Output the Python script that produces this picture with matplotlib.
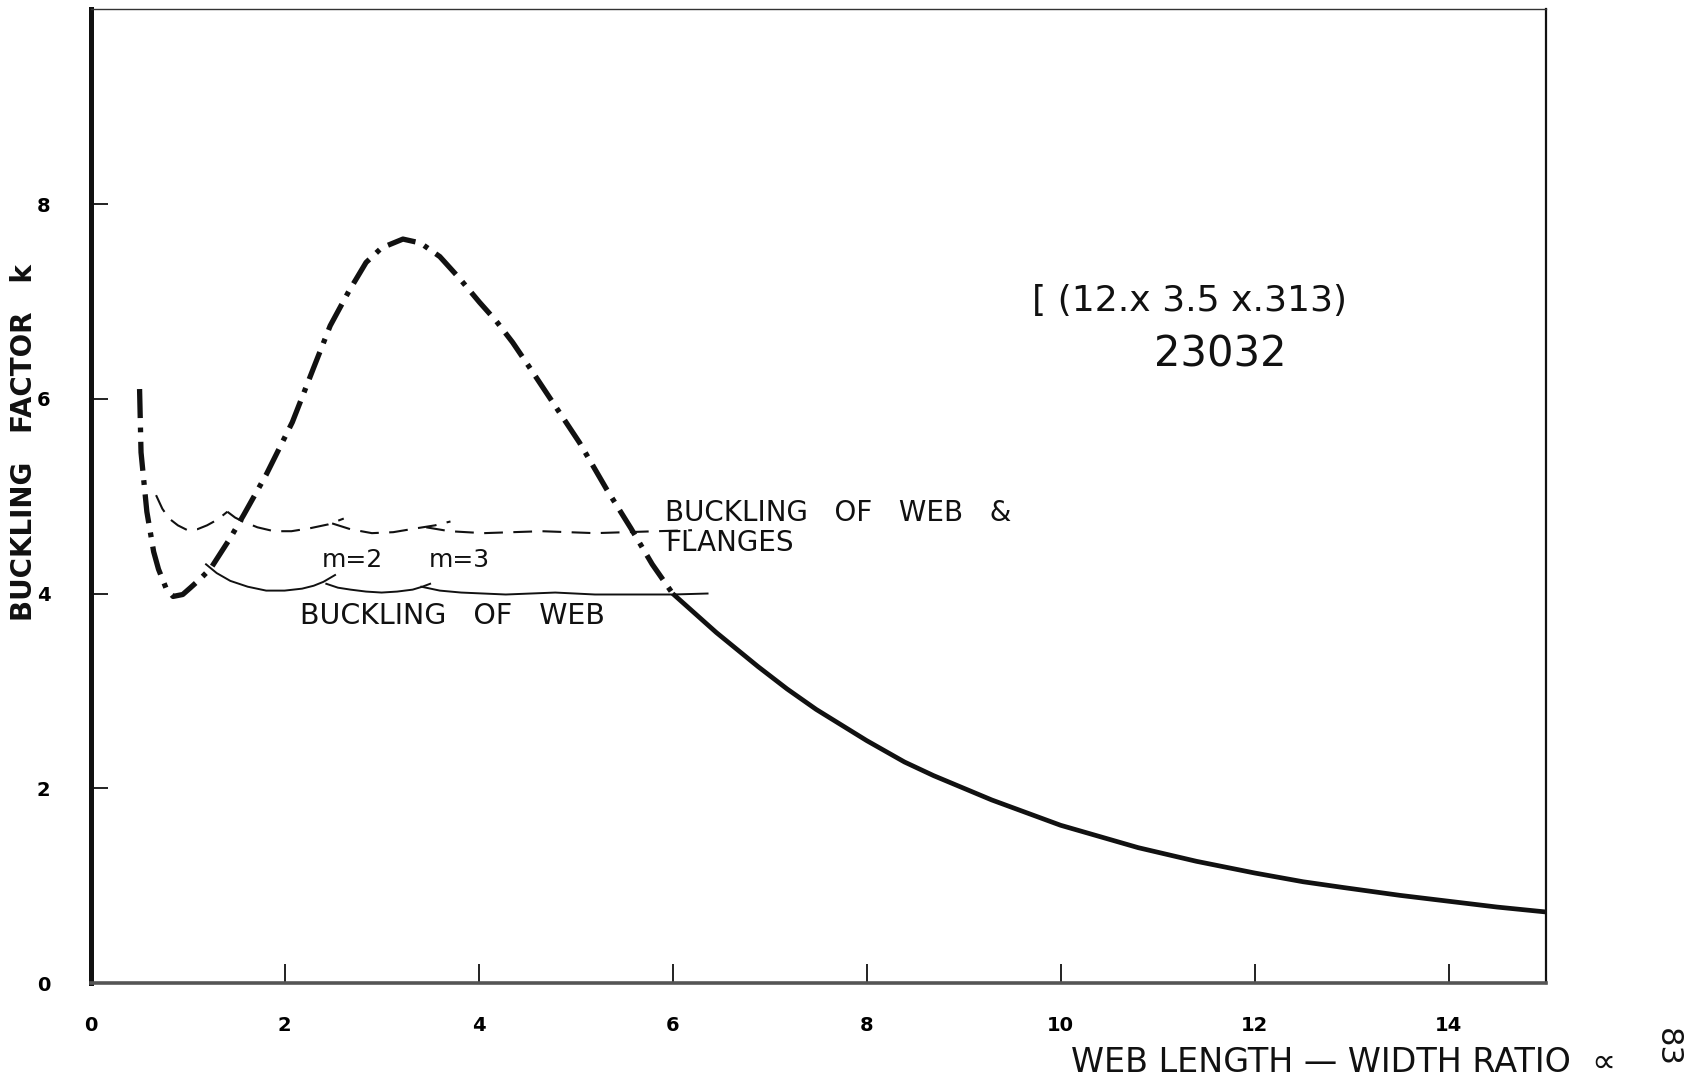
import matplotlib
matplotlib.use("Agg")
import matplotlib.pyplot as plt

# ---- data ----
# dash-dot curve: buckling factor k of the section
k_dashdot_x = [0.505, 0.52, 0.58, 0.65, 0.70, 0.78, 0.85, 0.95, 1.03, 1.13, 1.24, 1.44,
               1.58, 1.81, 2.08, 2.30, 2.47, 2.66, 2.84, 3.00, 3.22, 3.40, 3.60, 3.80,
               4.01, 4.18, 4.35, 4.52, 4.70, 5.04, 5.32, 5.57, 5.79, 6.00]
k_dashdot_y = [6.10, 5.45, 4.84, 4.43, 4.25, 4.05, 3.97, 3.99, 4.06, 4.15, 4.26, 4.57,
               4.81, 5.22, 5.76, 6.32, 6.75, 7.10, 7.40, 7.55, 7.64, 7.60, 7.46, 7.24,
               6.99, 6.80, 6.58, 6.33, 6.06, 5.55, 5.07, 4.67, 4.30, 4.00]
# solid continuation beyond alpha = 6
k_solid_x = [6.00, 6.45, 6.88, 7.18, 7.48, 8.00, 8.39, 8.69, 9.29, 10.0, 10.8, 11.4,
             12.0, 12.5, 12.92, 13.5, 14.0, 14.5, 15.0]
k_solid_y = [4.00, 3.60, 3.25, 3.02, 2.81, 2.49, 2.27, 2.13, 1.88, 1.62, 1.39, 1.25,
             1.13, 1.04, 0.98, 0.90, 0.84, 0.78, 0.73]

# buckling of web & flanges (dashed scallops, one list per lobe)
wf_lobes_x = [[0.675, 0.74, 0.81, 0.90, 1.00, 1.10, 1.20, 1.31, 1.41],
              [1.41, 1.49, 1.57, 1.72, 1.89, 2.07, 2.26, 2.45, 2.61],
              [2.49, 2.68, 2.90, 3.12, 3.36, 3.55, 3.71],
              [3.46, 3.70, 4.05, 4.35, 4.65, 5.20, 5.84, 6.20]]
wf_lobes_y = [[5.01, 4.87, 4.77, 4.70, 4.65, 4.66, 4.70, 4.76, 4.84],
              [4.84, 4.78, 4.74, 4.68, 4.64, 4.64, 4.67, 4.71, 4.77],
              [4.72, 4.66, 4.62, 4.63, 4.67, 4.70, 4.74],
              [4.68, 4.64, 4.62, 4.63, 4.64, 4.62, 4.64, 4.65]]

# buckling of web (thin solid scallops)
w_lobes_x = [[1.19, 1.30, 1.44, 1.62, 1.81, 2.00, 2.18, 2.30, 2.40, 2.52],
             [2.43, 2.55, 2.68, 2.84, 3.00, 3.16, 3.32, 3.42, 3.50],
             [3.41, 3.60, 3.82, 4.05, 4.28, 4.79, 5.20, 6.00, 6.36]]
w_lobes_y = [[4.30, 4.21, 4.13, 4.07, 4.03, 4.03, 4.05, 4.08, 4.12, 4.19],
             [4.10, 4.06, 4.04, 4.02, 4.01, 4.02, 4.04, 4.07, 4.10],
             [4.07, 4.03, 4.01, 4.00, 3.99, 4.01, 3.99, 3.99, 4.00]]

x_ticks = [0, 2, 4, 6, 8, 10, 12, 14]
x_tick_labels = ["0", "2", "4", "6", "8", "10", "12", "14"]
y_ticks = [0, 2, 4, 6, 8]
y_tick_labels = ["0", "2", "4", "6", "8"]

# ---- figure ----
fig = plt.figure(figsize=(16.9, 10.78), dpi=100)
ax = fig.add_axes([0.0536, 0.0881, 0.861, 0.9033])
ax.set_xlim(0, 15)
ax.set_ylim(0, 10)

ink = "#111111"
ax.plot(k_dashdot_x, k_dashdot_y, color=ink, lw=3.8,
        linestyle=(0, (5.5, 1.8, 0.9, 1.8)), dash_capstyle="butt",
        solid_joinstyle="round")
ax.plot(k_solid_x, k_solid_y, color=ink, lw=3.4, solid_capstyle="butt",
        solid_joinstyle="round")

for xs, ys in zip(wf_lobes_x, wf_lobes_y):
    ax.plot(xs, ys, color=ink, lw=1.5, linestyle=(0, (9, 5)))
for xs, ys in zip(w_lobes_x, w_lobes_y):
    ax.plot(xs, ys, color=ink, lw=1.4)

# spines
ax.spines["left"].set_linewidth(3.6)
ax.spines["left"].set_color(ink)
ax.spines["bottom"].set_linewidth(2.6)
ax.spines["bottom"].set_color("#555555")
ax.spines["top"].set_linewidth(1.0)
ax.spines["top"].set_color("#333333")
ax.spines["right"].set_linewidth(1.6)
ax.spines["right"].set_color(ink)

ax.set_xticks(x_ticks)
ax.set_xticklabels(x_tick_labels, fontsize=14, fontweight="bold")
ax.set_yticks(y_ticks)
ax.set_yticklabels(y_tick_labels, fontsize=14, fontweight="bold")
ax.tick_params(axis="x", direction="in", length=14, width=1.3, pad=24, color=ink)
ax.tick_params(axis="y", direction="in", length=12, width=1.3, pad=29, color=ink)

# texts
tkw = dict(color=ink, fontfamily="DejaVu Sans")
ax.text(5.92, 4.67, "BUCKLING   OF   WEB   &\nFLANGES", ha="left", va="center",
        fontsize=20, linespacing=1.1, **tkw)
ax.text(2.70, 4.34, "m=2", ha="center", va="center", fontsize=18, **tkw)
ax.text(3.80, 4.34, "m=3", ha="center", va="center", fontsize=18, **tkw)
ax.text(3.73, 3.77, "BUCKLING   OF   WEB", ha="center", va="center", fontsize=20.5, **tkw)
ax.text(9.70, 7.0, "[ (12.x 3.5 x.313)", ha="left", va="center", fontsize=26, **tkw)
ax.text(11.65, 6.45, "23032", ha="center", va="center", fontsize=30, **tkw)

ax.text(15.72, -0.82, "WEB LENGTH \u2014 WIDTH RATIO  \u221d", ha="right", va="center",
        fontsize=24, clip_on=False, **tkw)
ax.text(16.25, -0.66, "83", ha="center", va="center", rotation=270,
        fontsize=22, clip_on=False, **tkw)
ax.text(-0.685, 5.55, "BUCKLING   FACTOR   k", ha="center", va="center", rotation=90,
        fontsize=20, fontweight="bold", clip_on=False, **tkw)

fig.savefig("out.png", dpi=100, facecolor="white")
